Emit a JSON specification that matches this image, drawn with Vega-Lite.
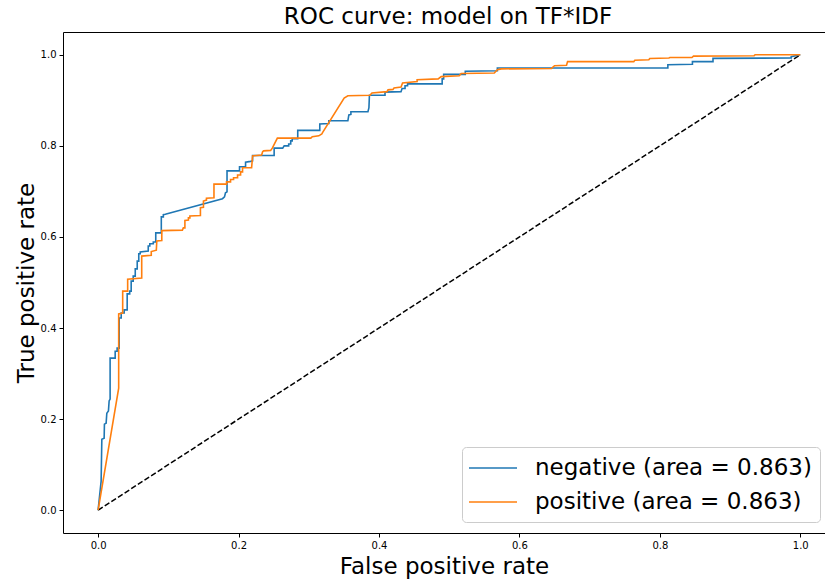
{
  "$schema": "https://vega.github.io/schema/vega-lite/v6.json",
  "width": 762,
  "height": 501,
  "autosize": {"type": "none"},
  "padding": {"left": 63, "top": 32, "right": 0, "bottom": 49},
  "background": "white",
  "title": {"text": "ROC curve: model on TF*IDF", "fontSize": 23, "font": "DejaVu Sans", "fontWeight": "normal", "color": "black", "offset": 3, "dx": 4},
  "config": {
    "font": "DejaVu Sans",
    "view": {"stroke": "black", "strokeWidth": 1},
    "axis": {"domain": false, "grid": false, "ticks": true, "tickColor": "black", "tickSize": 4, "tickWidth": 1, "labelColor": "black", "labelFontSize": 10, "labelPadding": 3, "titleFontSize": 23, "titleFontWeight": "normal", "titleColor": "black", "titleFont": "DejaVu Sans", "labelFont": "DejaVu Sans"}
  },
  "data": {"values": [
    {"series": "negative (area = 0.863)", "i": 0, "fpr": 0, "tpr": 0},
    {"series": "negative (area = 0.863)", "i": 1, "fpr": 0.0043, "tpr": 0.064},
    {"series": "negative (area = 0.863)", "i": 2, "fpr": 0.0053, "tpr": 0.156},
    {"series": "negative (area = 0.863)", "i": 3, "fpr": 0.0086, "tpr": 0.158},
    {"series": "negative (area = 0.863)", "i": 4, "fpr": 0.009, "tpr": 0.189},
    {"series": "negative (area = 0.863)", "i": 5, "fpr": 0.0114, "tpr": 0.191},
    {"series": "negative (area = 0.863)", "i": 6, "fpr": 0.0124, "tpr": 0.213},
    {"series": "negative (area = 0.863)", "i": 7, "fpr": 0.0147, "tpr": 0.218},
    {"series": "negative (area = 0.863)", "i": 8, "fpr": 0.0157, "tpr": 0.240},
    {"series": "negative (area = 0.863)", "i": 9, "fpr": 0.0171, "tpr": 0.244},
    {"series": "negative (area = 0.863)", "i": 10, "fpr": 0.0171, "tpr": 0.334},
    {"series": "negative (area = 0.863)", "i": 11, "fpr": 0.0243, "tpr": 0.334},
    {"series": "negative (area = 0.863)", "i": 12, "fpr": 0.0243, "tpr": 0.349},
    {"series": "negative (area = 0.863)", "i": 13, "fpr": 0.0271, "tpr": 0.349},
    {"series": "negative (area = 0.863)", "i": 14, "fpr": 0.0271, "tpr": 0.356},
    {"series": "negative (area = 0.863)", "i": 15, "fpr": 0.030, "tpr": 0.356},
    {"series": "negative (area = 0.863)", "i": 16, "fpr": 0.030, "tpr": 0.422},
    {"series": "negative (area = 0.863)", "i": 17, "fpr": 0.0329, "tpr": 0.422},
    {"series": "negative (area = 0.863)", "i": 18, "fpr": 0.0329, "tpr": 0.433},
    {"series": "negative (area = 0.863)", "i": 19, "fpr": 0.0371, "tpr": 0.433},
    {"series": "negative (area = 0.863)", "i": 20, "fpr": 0.0371, "tpr": 0.440},
    {"series": "negative (area = 0.863)", "i": 21, "fpr": 0.0414, "tpr": 0.440},
    {"series": "negative (area = 0.863)", "i": 22, "fpr": 0.0414, "tpr": 0.475},
    {"series": "negative (area = 0.863)", "i": 23, "fpr": 0.045, "tpr": 0.475},
    {"series": "negative (area = 0.863)", "i": 24, "fpr": 0.045, "tpr": 0.481},
    {"series": "negative (area = 0.863)", "i": 25, "fpr": 0.0471, "tpr": 0.481},
    {"series": "negative (area = 0.863)", "i": 26, "fpr": 0.0471, "tpr": 0.503},
    {"series": "negative (area = 0.863)", "i": 27, "fpr": 0.05, "tpr": 0.503},
    {"series": "negative (area = 0.863)", "i": 28, "fpr": 0.05, "tpr": 0.514},
    {"series": "negative (area = 0.863)", "i": 29, "fpr": 0.0529, "tpr": 0.514},
    {"series": "negative (area = 0.863)", "i": 30, "fpr": 0.0529, "tpr": 0.530},
    {"series": "negative (area = 0.863)", "i": 31, "fpr": 0.0557, "tpr": 0.530},
    {"series": "negative (area = 0.863)", "i": 32, "fpr": 0.0557, "tpr": 0.547},
    {"series": "negative (area = 0.863)", "i": 33, "fpr": 0.0579, "tpr": 0.547},
    {"series": "negative (area = 0.863)", "i": 34, "fpr": 0.0579, "tpr": 0.563},
    {"series": "negative (area = 0.863)", "i": 35, "fpr": 0.06, "tpr": 0.563},
    {"series": "negative (area = 0.863)", "i": 36, "fpr": 0.06, "tpr": 0.567},
    {"series": "negative (area = 0.863)", "i": 37, "fpr": 0.0714, "tpr": 0.569},
    {"series": "negative (area = 0.863)", "i": 38, "fpr": 0.0714, "tpr": 0.580},
    {"series": "negative (area = 0.863)", "i": 39, "fpr": 0.0736, "tpr": 0.580},
    {"series": "negative (area = 0.863)", "i": 40, "fpr": 0.0736, "tpr": 0.585},
    {"series": "negative (area = 0.863)", "i": 41, "fpr": 0.0786, "tpr": 0.585},
    {"series": "negative (area = 0.863)", "i": 42, "fpr": 0.0786, "tpr": 0.589},
    {"series": "negative (area = 0.863)", "i": 43, "fpr": 0.0821, "tpr": 0.589},
    {"series": "negative (area = 0.863)", "i": 44, "fpr": 0.0821, "tpr": 0.609},
    {"series": "negative (area = 0.863)", "i": 45, "fpr": 0.09, "tpr": 0.609},
    {"series": "negative (area = 0.863)", "i": 46, "fpr": 0.09, "tpr": 0.644},
    {"series": "negative (area = 0.863)", "i": 47, "fpr": 0.0929, "tpr": 0.644},
    {"series": "negative (area = 0.863)", "i": 48, "fpr": 0.0929, "tpr": 0.649},
    {"series": "negative (area = 0.863)", "i": 49, "fpr": 0.0957, "tpr": 0.650},
    {"series": "negative (area = 0.863)", "i": 50, "fpr": 0.1771, "tpr": 0.684},
    {"series": "negative (area = 0.863)", "i": 51, "fpr": 0.18, "tpr": 0.688},
    {"series": "negative (area = 0.863)", "i": 52, "fpr": 0.1814, "tpr": 0.697},
    {"series": "negative (area = 0.863)", "i": 53, "fpr": 0.1836, "tpr": 0.699},
    {"series": "negative (area = 0.863)", "i": 54, "fpr": 0.1836, "tpr": 0.745},
    {"series": "negative (area = 0.863)", "i": 55, "fpr": 0.2014, "tpr": 0.745},
    {"series": "negative (area = 0.863)", "i": 56, "fpr": 0.2014, "tpr": 0.754},
    {"series": "negative (area = 0.863)", "i": 57, "fpr": 0.21, "tpr": 0.754},
    {"series": "negative (area = 0.863)", "i": 58, "fpr": 0.21, "tpr": 0.764},
    {"series": "negative (area = 0.863)", "i": 59, "fpr": 0.2171, "tpr": 0.766},
    {"series": "negative (area = 0.863)", "i": 60, "fpr": 0.22, "tpr": 0.767},
    {"series": "negative (area = 0.863)", "i": 61, "fpr": 0.22, "tpr": 0.779},
    {"series": "negative (area = 0.863)", "i": 62, "fpr": 0.2507, "tpr": 0.779},
    {"series": "negative (area = 0.863)", "i": 63, "fpr": 0.2507, "tpr": 0.795},
    {"series": "negative (area = 0.863)", "i": 64, "fpr": 0.2629, "tpr": 0.795},
    {"series": "negative (area = 0.863)", "i": 65, "fpr": 0.265, "tpr": 0.800},
    {"series": "negative (area = 0.863)", "i": 66, "fpr": 0.2714, "tpr": 0.800},
    {"series": "negative (area = 0.863)", "i": 67, "fpr": 0.2714, "tpr": 0.804},
    {"series": "negative (area = 0.863)", "i": 68, "fpr": 0.2743, "tpr": 0.804},
    {"series": "negative (area = 0.863)", "i": 69, "fpr": 0.2743, "tpr": 0.811},
    {"series": "negative (area = 0.863)", "i": 70, "fpr": 0.2764, "tpr": 0.811},
    {"series": "negative (area = 0.863)", "i": 71, "fpr": 0.2764, "tpr": 0.816},
    {"series": "negative (area = 0.863)", "i": 72, "fpr": 0.2843, "tpr": 0.816},
    {"series": "negative (area = 0.863)", "i": 73, "fpr": 0.2843, "tpr": 0.834},
    {"series": "negative (area = 0.863)", "i": 74, "fpr": 0.3157, "tpr": 0.834},
    {"series": "negative (area = 0.863)", "i": 75, "fpr": 0.3157, "tpr": 0.848},
    {"series": "negative (area = 0.863)", "i": 76, "fpr": 0.3286, "tpr": 0.849},
    {"series": "negative (area = 0.863)", "i": 77, "fpr": 0.3286, "tpr": 0.855},
    {"series": "negative (area = 0.863)", "i": 78, "fpr": 0.3557, "tpr": 0.855},
    {"series": "negative (area = 0.863)", "i": 79, "fpr": 0.3571, "tpr": 0.868},
    {"series": "negative (area = 0.863)", "i": 80, "fpr": 0.36, "tpr": 0.869},
    {"series": "negative (area = 0.863)", "i": 81, "fpr": 0.36, "tpr": 0.875},
    {"series": "negative (area = 0.863)", "i": 82, "fpr": 0.3843, "tpr": 0.875},
    {"series": "negative (area = 0.863)", "i": 83, "fpr": 0.3857, "tpr": 0.884},
    {"series": "negative (area = 0.863)", "i": 84, "fpr": 0.3864, "tpr": 0.911},
    {"series": "negative (area = 0.863)", "i": 85, "fpr": 0.4086, "tpr": 0.911},
    {"series": "negative (area = 0.863)", "i": 86, "fpr": 0.4086, "tpr": 0.918},
    {"series": "negative (area = 0.863)", "i": 87, "fpr": 0.4314, "tpr": 0.919},
    {"series": "negative (area = 0.863)", "i": 88, "fpr": 0.4329, "tpr": 0.926},
    {"series": "negative (area = 0.863)", "i": 89, "fpr": 0.4371, "tpr": 0.926},
    {"series": "negative (area = 0.863)", "i": 90, "fpr": 0.4371, "tpr": 0.932},
    {"series": "negative (area = 0.863)", "i": 91, "fpr": 0.4407, "tpr": 0.932},
    {"series": "negative (area = 0.863)", "i": 92, "fpr": 0.4407, "tpr": 0.936},
    {"series": "negative (area = 0.863)", "i": 93, "fpr": 0.49, "tpr": 0.936},
    {"series": "negative (area = 0.863)", "i": 94, "fpr": 0.49, "tpr": 0.947},
    {"series": "negative (area = 0.863)", "i": 95, "fpr": 0.4921, "tpr": 0.947},
    {"series": "negative (area = 0.863)", "i": 96, "fpr": 0.4921, "tpr": 0.957},
    {"series": "negative (area = 0.863)", "i": 97, "fpr": 0.5229, "tpr": 0.957},
    {"series": "negative (area = 0.863)", "i": 98, "fpr": 0.5229, "tpr": 0.964},
    {"series": "negative (area = 0.863)", "i": 99, "fpr": 0.5686, "tpr": 0.965},
    {"series": "negative (area = 0.863)", "i": 100, "fpr": 0.5686, "tpr": 0.971},
    {"series": "negative (area = 0.863)", "i": 101, "fpr": 0.8114, "tpr": 0.971},
    {"series": "negative (area = 0.863)", "i": 102, "fpr": 0.8114, "tpr": 0.978},
    {"series": "negative (area = 0.863)", "i": 103, "fpr": 0.8464, "tpr": 0.979},
    {"series": "negative (area = 0.863)", "i": 104, "fpr": 0.8464, "tpr": 0.985},
    {"series": "negative (area = 0.863)", "i": 105, "fpr": 0.8757, "tpr": 0.985},
    {"series": "negative (area = 0.863)", "i": 106, "fpr": 0.8757, "tpr": 0.992},
    {"series": "negative (area = 0.863)", "i": 107, "fpr": 0.9871, "tpr": 0.993},
    {"series": "negative (area = 0.863)", "i": 108, "fpr": 0.9871, "tpr": 0.996},
    {"series": "negative (area = 0.863)", "i": 109, "fpr": 1.0, "tpr": 1.0},
    {"series": "positive (area = 0.863)", "i": 0, "fpr": 0, "tpr": 0},
    {"series": "positive (area = 0.863)", "i": 1, "fpr": 0.0293, "tpr": 0.268},
    {"series": "positive (area = 0.863)", "i": 2, "fpr": 0.0293, "tpr": 0.431},
    {"series": "positive (area = 0.863)", "i": 3, "fpr": 0.035, "tpr": 0.433},
    {"series": "positive (area = 0.863)", "i": 4, "fpr": 0.035, "tpr": 0.481},
    {"series": "positive (area = 0.863)", "i": 5, "fpr": 0.0421, "tpr": 0.481},
    {"series": "positive (area = 0.863)", "i": 6, "fpr": 0.0421, "tpr": 0.507},
    {"series": "positive (area = 0.863)", "i": 7, "fpr": 0.0621, "tpr": 0.510},
    {"series": "positive (area = 0.863)", "i": 8, "fpr": 0.0621, "tpr": 0.558},
    {"series": "positive (area = 0.863)", "i": 9, "fpr": 0.0757, "tpr": 0.560},
    {"series": "positive (area = 0.863)", "i": 10, "fpr": 0.0757, "tpr": 0.568},
    {"series": "positive (area = 0.863)", "i": 11, "fpr": 0.0829, "tpr": 0.571},
    {"series": "positive (area = 0.863)", "i": 12, "fpr": 0.0836, "tpr": 0.591},
    {"series": "positive (area = 0.863)", "i": 13, "fpr": 0.0907, "tpr": 0.592},
    {"series": "positive (area = 0.863)", "i": 14, "fpr": 0.0907, "tpr": 0.614},
    {"series": "positive (area = 0.863)", "i": 15, "fpr": 0.12, "tpr": 0.615},
    {"series": "positive (area = 0.863)", "i": 16, "fpr": 0.1214, "tpr": 0.620},
    {"series": "positive (area = 0.863)", "i": 17, "fpr": 0.1236, "tpr": 0.620},
    {"series": "positive (area = 0.863)", "i": 18, "fpr": 0.1236, "tpr": 0.636},
    {"series": "positive (area = 0.863)", "i": 19, "fpr": 0.1286, "tpr": 0.637},
    {"series": "positive (area = 0.863)", "i": 20, "fpr": 0.1286, "tpr": 0.642},
    {"series": "positive (area = 0.863)", "i": 21, "fpr": 0.1307, "tpr": 0.642},
    {"series": "positive (area = 0.863)", "i": 22, "fpr": 0.1307, "tpr": 0.646},
    {"series": "positive (area = 0.863)", "i": 23, "fpr": 0.1457, "tpr": 0.647},
    {"series": "positive (area = 0.863)", "i": 24, "fpr": 0.1457, "tpr": 0.664},
    {"series": "positive (area = 0.863)", "i": 25, "fpr": 0.15, "tpr": 0.665},
    {"series": "positive (area = 0.863)", "i": 26, "fpr": 0.15, "tpr": 0.679},
    {"series": "positive (area = 0.863)", "i": 27, "fpr": 0.1543, "tpr": 0.681},
    {"series": "positive (area = 0.863)", "i": 28, "fpr": 0.1543, "tpr": 0.685},
    {"series": "positive (area = 0.863)", "i": 29, "fpr": 0.165, "tpr": 0.686},
    {"series": "positive (area = 0.863)", "i": 30, "fpr": 0.165, "tpr": 0.716},
    {"series": "positive (area = 0.863)", "i": 31, "fpr": 0.1829, "tpr": 0.716},
    {"series": "positive (area = 0.863)", "i": 32, "fpr": 0.1829, "tpr": 0.721},
    {"series": "positive (area = 0.863)", "i": 33, "fpr": 0.1886, "tpr": 0.721},
    {"series": "positive (area = 0.863)", "i": 34, "fpr": 0.1886, "tpr": 0.726},
    {"series": "positive (area = 0.863)", "i": 35, "fpr": 0.1929, "tpr": 0.726},
    {"series": "positive (area = 0.863)", "i": 36, "fpr": 0.1929, "tpr": 0.730},
    {"series": "positive (area = 0.863)", "i": 37, "fpr": 0.1986, "tpr": 0.730},
    {"series": "positive (area = 0.863)", "i": 38, "fpr": 0.1986, "tpr": 0.736},
    {"series": "positive (area = 0.863)", "i": 39, "fpr": 0.2029, "tpr": 0.736},
    {"series": "positive (area = 0.863)", "i": 40, "fpr": 0.2029, "tpr": 0.743},
    {"series": "positive (area = 0.863)", "i": 41, "fpr": 0.2057, "tpr": 0.743},
    {"series": "positive (area = 0.863)", "i": 42, "fpr": 0.2057, "tpr": 0.752},
    {"series": "positive (area = 0.863)", "i": 43, "fpr": 0.2186, "tpr": 0.752},
    {"series": "positive (area = 0.863)", "i": 44, "fpr": 0.22, "tpr": 0.778},
    {"series": "positive (area = 0.863)", "i": 45, "fpr": 0.2329, "tpr": 0.780},
    {"series": "positive (area = 0.863)", "i": 46, "fpr": 0.2343, "tpr": 0.787},
    {"series": "positive (area = 0.863)", "i": 47, "fpr": 0.2357, "tpr": 0.789},
    {"series": "positive (area = 0.863)", "i": 48, "fpr": 0.2457, "tpr": 0.790},
    {"series": "positive (area = 0.863)", "i": 49, "fpr": 0.2481, "tpr": 0.795},
    {"series": "positive (area = 0.863)", "i": 50, "fpr": 0.2553, "tpr": 0.817},
    {"series": "positive (area = 0.863)", "i": 51, "fpr": 0.3029, "tpr": 0.817},
    {"series": "positive (area = 0.863)", "i": 52, "fpr": 0.305, "tpr": 0.820},
    {"series": "positive (area = 0.863)", "i": 53, "fpr": 0.3143, "tpr": 0.822},
    {"series": "positive (area = 0.863)", "i": 54, "fpr": 0.3186, "tpr": 0.826},
    {"series": "positive (area = 0.863)", "i": 55, "fpr": 0.3196, "tpr": 0.829},
    {"series": "positive (area = 0.863)", "i": 56, "fpr": 0.3504, "tpr": 0.905},
    {"series": "positive (area = 0.863)", "i": 57, "fpr": 0.3557, "tpr": 0.910},
    {"series": "positive (area = 0.863)", "i": 58, "fpr": 0.3871, "tpr": 0.911},
    {"series": "positive (area = 0.863)", "i": 59, "fpr": 0.39, "tpr": 0.916},
    {"series": "positive (area = 0.863)", "i": 60, "fpr": 0.4114, "tpr": 0.919},
    {"series": "positive (area = 0.863)", "i": 61, "fpr": 0.4129, "tpr": 0.923},
    {"series": "positive (area = 0.863)", "i": 62, "fpr": 0.42, "tpr": 0.924},
    {"series": "positive (area = 0.863)", "i": 63, "fpr": 0.4214, "tpr": 0.927},
    {"series": "positive (area = 0.863)", "i": 64, "fpr": 0.4314, "tpr": 0.929},
    {"series": "positive (area = 0.863)", "i": 65, "fpr": 0.4336, "tpr": 0.938},
    {"series": "positive (area = 0.863)", "i": 66, "fpr": 0.4543, "tpr": 0.941},
    {"series": "positive (area = 0.863)", "i": 67, "fpr": 0.4543, "tpr": 0.945},
    {"series": "positive (area = 0.863)", "i": 68, "fpr": 0.4843, "tpr": 0.947},
    {"series": "positive (area = 0.863)", "i": 69, "fpr": 0.4886, "tpr": 0.952},
    {"series": "positive (area = 0.863)", "i": 70, "fpr": 0.5143, "tpr": 0.954},
    {"series": "positive (area = 0.863)", "i": 71, "fpr": 0.5171, "tpr": 0.959},
    {"series": "positive (area = 0.863)", "i": 72, "fpr": 0.5643, "tpr": 0.960},
    {"series": "positive (area = 0.863)", "i": 73, "fpr": 0.5686, "tpr": 0.967},
    {"series": "positive (area = 0.863)", "i": 74, "fpr": 0.5743, "tpr": 0.969},
    {"series": "positive (area = 0.863)", "i": 75, "fpr": 0.6457, "tpr": 0.970},
    {"series": "positive (area = 0.863)", "i": 76, "fpr": 0.65, "tpr": 0.976},
    {"series": "positive (area = 0.863)", "i": 77, "fpr": 0.6671, "tpr": 0.977},
    {"series": "positive (area = 0.863)", "i": 78, "fpr": 0.6686, "tpr": 0.985},
    {"series": "positive (area = 0.863)", "i": 79, "fpr": 0.7629, "tpr": 0.985},
    {"series": "positive (area = 0.863)", "i": 80, "fpr": 0.7643, "tpr": 0.988},
    {"series": "positive (area = 0.863)", "i": 81, "fpr": 0.7843, "tpr": 0.989},
    {"series": "positive (area = 0.863)", "i": 82, "fpr": 0.7857, "tpr": 0.992},
    {"series": "positive (area = 0.863)", "i": 83, "fpr": 0.8129, "tpr": 0.993},
    {"series": "positive (area = 0.863)", "i": 84, "fpr": 0.8143, "tpr": 0.994},
    {"series": "positive (area = 0.863)", "i": 85, "fpr": 0.8457, "tpr": 0.994},
    {"series": "positive (area = 0.863)", "i": 86, "fpr": 0.8479, "tpr": 0.997},
    {"series": "positive (area = 0.863)", "i": 87, "fpr": 0.9343, "tpr": 0.998},
    {"series": "positive (area = 0.863)", "i": 88, "fpr": 0.9357, "tpr": 1.0},
    {"series": "positive (area = 0.863)", "i": 89, "fpr": 1.0, "tpr": 1.0}
  ]},
  "layer": [
    {
      "data": {"values": [{"fpr": 0, "tpr": 0}, {"fpr": 1, "tpr": 1}]},
      "mark": {"type": "line", "color": "black", "strokeWidth": 1.5, "strokeDash": [5.5, 2.4], "clip": true},
      "encoding": {
        "x": {"field": "fpr", "type": "quantitative"},
        "y": {"field": "tpr", "type": "quantitative"}
      }
    },
    {
      "mark": {"type": "line", "strokeWidth": 1.6, "clip": true},
      "encoding": {
        "x": {"field": "fpr", "type": "quantitative", "scale": {"domain": [-0.05, 1.0352], "nice": false, "zero": false},
              "axis": {"title": "False positive rate", "values": [0, 0.2, 0.4, 0.6, 0.8, 1.0], "format": ".1f", "titlePadding": 5}},
        "y": {"field": "tpr", "type": "quantitative", "scale": {"domain": [-0.05, 1.05], "nice": false, "zero": false},
              "axis": {"title": "True positive rate", "values": [0, 0.2, 0.4, 0.6, 0.8, 1.0], "format": ".1f", "titlePadding": 2}},
        "order": {"field": "i", "type": "quantitative"},
        "color": {"field": "series", "type": "nominal",
                  "scale": {"domain": ["negative (area = 0.863)", "positive (area = 0.863)"], "range": ["#1f77b4", "#ff7f0e"]},
                  "legend": {"title": null, "orient": "none", "legendX": 399, "legendY": 415, "direction": "vertical",
                             "symbolType": "M-2,0H2", "symbolSize": 576, "symbolStrokeWidth": 1.6, "symbolOffset": 10,
                             "labelFontSize": 23, "labelFont": "DejaVu Sans", "labelColor": "black", "labelLimit": 500,
                             "labelOffset": 29, "rowPadding": 9, "padding": 8, "fillColor": "white", "strokeColor": "#cccccc", "cornerRadius": 4}}
      }
    }
  ]
}
